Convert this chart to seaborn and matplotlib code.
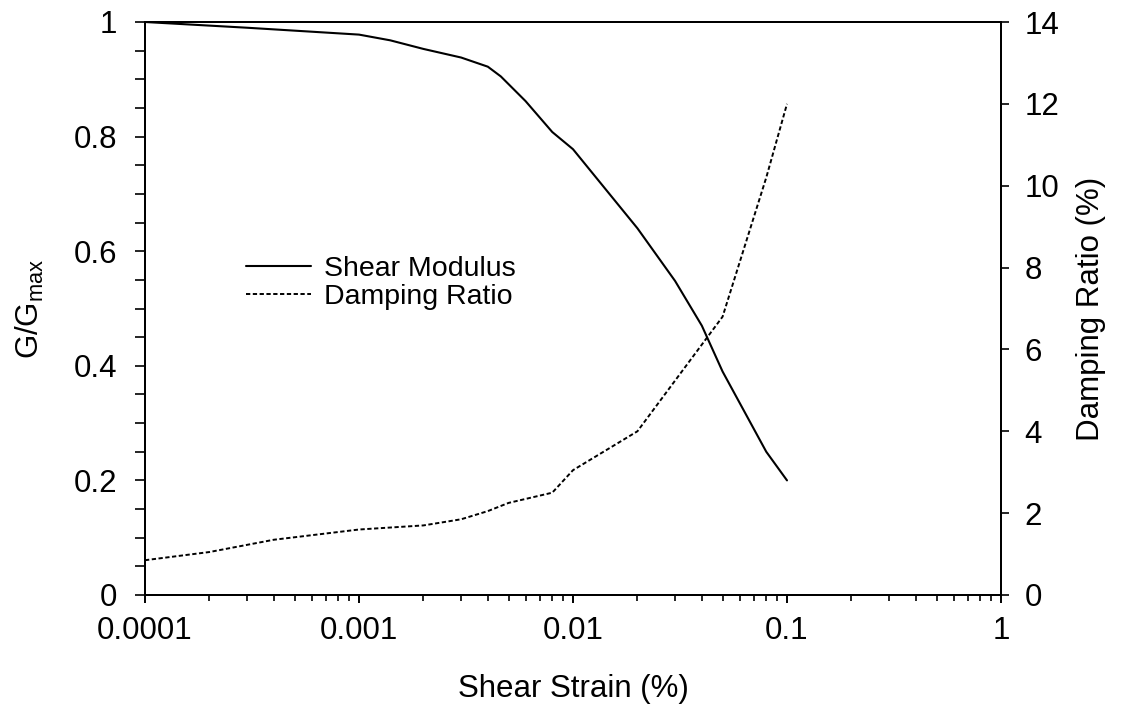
import matplotlib
matplotlib.use("Agg")
import matplotlib.pyplot as plt
import seaborn as sns
import numpy as np
import pandas as pd
from matplotlib.ticker import FuncFormatter, MultipleLocator, LogLocator, NullFormatter

# Data
strain_g = [0.0001, 0.0003, 0.001, 0.0014, 0.002, 0.003, 0.004, 0.0046, 0.006, 0.008, 0.01, 0.02, 0.03, 0.04, 0.05, 0.08, 0.1]
g_ratio = [1.0, 0.99, 0.978, 0.968, 0.953, 0.938, 0.922, 0.905, 0.862, 0.808, 0.778, 0.64, 0.548, 0.47, 0.39, 0.25, 0.2]

strain_d = [0.0001, 0.0002, 0.0004, 0.001, 0.002, 0.003, 0.004, 0.005, 0.008, 0.01, 0.02, 0.05, 0.08, 0.1]
damping = [0.85, 1.05, 1.35, 1.6, 1.7, 1.85, 2.05, 2.25, 2.5, 3.05, 4.0, 6.8, 10.2, 12.0]

labels = ["Shear Modulus", "Damping Ratio"]

sns.set_style("ticks")
plt.rcParams['font.family'] = ['Liberation Sans', 'DejaVu Sans']
plt.rcParams['mathtext.fontset'] = 'custom'
plt.rcParams['mathtext.rm'] = 'Liberation Sans'
plt.rcParams['mathtext.it'] = 'Liberation Sans'
plt.rcParams['text.color'] = 'black'
plt.rcParams['axes.labelcolor'] = 'black'
plt.rcParams['xtick.color'] = 'black'
plt.rcParams['ytick.color'] = 'black'

fs = 22.5
fig = plt.figure(figsize=(11.21, 7.13), dpi=100)
ax = fig.add_axes([145/1121, 1-595/713, (1001-145)/1121, (595-22)/713])
ax2 = ax.twinx()

df_g = pd.DataFrame({"strain": strain_g, "g": g_ratio})
df_d = pd.DataFrame({"strain": strain_d, "d": damping})

sns.lineplot(data=df_g, x="strain", y="g", ax=ax, color="black", lw=1.5, label=labels[0], legend=False)
sns.lineplot(data=df_d, x="strain", y="d", ax=ax2, color="black", lw=1.4, linestyle=(0, (2.2, 1.3)), label=labels[1], legend=False)

ax.set_xscale("log")
ax.set_xlim(0.0001, 1)
ax.set_ylim(0, 1)
ax2.set_ylim(0, 14)

fmt = FuncFormatter(lambda v, p: "%g" % v)
ax.xaxis.set_major_locator(LogLocator(base=10, numticks=10))
ax.xaxis.set_minor_locator(LogLocator(base=10, subs=np.arange(2, 10), numticks=20))
ax.xaxis.set_major_formatter(fmt)
ax.xaxis.set_minor_formatter(NullFormatter())
ax.yaxis.set_major_locator(MultipleLocator(0.2))
ax.yaxis.set_minor_locator(MultipleLocator(0.05))
ax.yaxis.set_major_formatter(fmt)
ax2.yaxis.set_major_locator(MultipleLocator(2))
ax2.yaxis.set_major_formatter(fmt)

for a in (ax, ax2):
    for s in a.spines.values():
        s.set_visible(True)
        s.set_linewidth(1.4)
        s.set_color("black")

ax.tick_params(axis="x", which="major", direction="out", length=6, width=1.4, pad=9, labelsize=fs, colors="black")
ax.tick_params(axis="x", which="minor", direction="out", length=4, width=1.2)
ax.tick_params(axis="y", which="major", direction="out", length=7, width=1.2, pad=13, labelsize=fs)
ax.tick_params(axis="y", which="minor", direction="out", length=7, width=1.2)
ax2.tick_params(axis="y", which="major", direction="out", length=6, width=1.2, pad=11, labelsize=fs)

ax.set_xlabel("Shear Strain (%)", fontsize=fs, labelpad=20)
ax.set_ylabel(r"G/G$_{\mathrm{max}}$", fontsize=fs, labelpad=20)
ax2.set_ylabel("Damping Ratio (%)", fontsize=fs, labelpad=12)

h1, l1 = ax.get_legend_handles_labels()
h2, l2 = ax2.get_legend_handles_labels()
leg = ax.legend(h1 + h2, l1 + l2, loc="center left", bbox_to_anchor=(246/1121, 1-283/713),
                bbox_transform=fig.transFigure, frameon=False, fontsize=20.5,
                handlelength=2.3, handletextpad=0.45, labelspacing=0.05, borderpad=0, borderaxespad=0)

fig.savefig("out.png", dpi=100)
